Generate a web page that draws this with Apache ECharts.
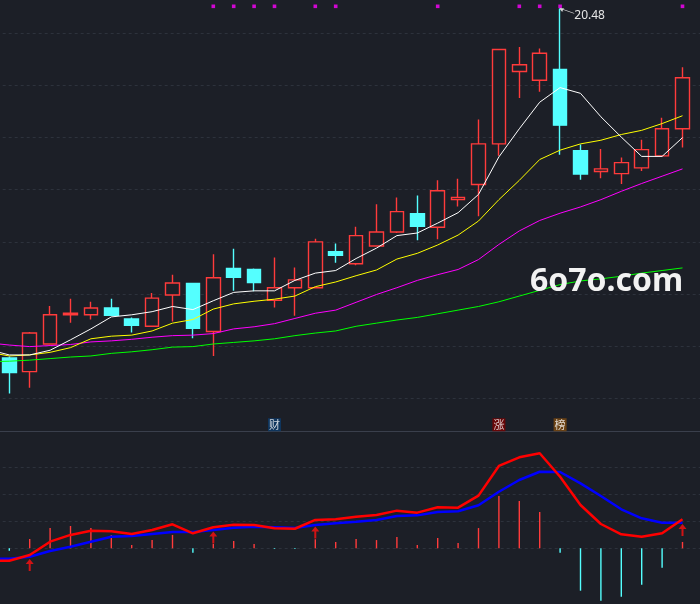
<!DOCTYPE html>
<html><head><meta charset="utf-8">
<script src="https://cdn.jsdelivr.net/npm/echarts@6/dist/echarts.min.js"></script>
<style>html,body{margin:0;padding:0;background:#1c1f27;}#c{width:700px;height:604px;}</style>
</head><body><div id="c"></div>
<script>
// ---- data ----
const days = ['d01','d02','d03','d04','d05','d06','d07','d08','d09','d10','d11','d12','d13','d14','d15','d16','d17',
  'd18','d19','d20','d21','d22','d23','d24','d25','d26','d27','d28','d29','d30','d31','d32','d33','d34'];
const openP  = [13.77,13.51,14.04,14.60,14.60,14.73,14.52,14.38,14.98,15.20,14.28,15.49,15.47,14.88,15.12,15.12,15.81,15.58,15.92,16.19,16.54,16.28,16.81,17.10,17.88,19.27,19.10,19.31,17.75,17.35,17.31,17.42,17.65,18.17];
const closeP = [13.49,14.25,14.60,14.63,14.73,14.59,14.40,14.92,15.21,14.34,15.31,15.32,15.22,15.12,15.27,16.00,15.74,16.12,16.19,16.58,16.30,16.98,16.85,17.88,19.69,19.40,19.62,18.24,17.30,17.40,17.52,17.77,18.17,19.15];
const highP  = [13.80,14.27,14.77,14.91,14.85,14.91,14.55,15.02,15.37,15.20,15.76,15.87,15.49,15.70,15.51,16.06,15.97,16.29,16.72,16.85,16.89,17.18,17.21,18.35,19.69,19.74,19.71,20.48,17.87,17.78,17.62,17.96,18.38,19.35];
const lowP   = [13.09,13.20,14.03,14.45,14.51,14.59,14.26,14.37,14.47,14.15,13.81,15.06,15.05,14.74,14.58,15.12,15.60,15.55,15.92,16.17,16.03,16.05,16.68,16.49,17.65,18.76,18.88,17.67,17.19,17.22,17.11,17.36,17.65,17.81];

// moving averages: value before the first visible day, then one per day
const ma5Prev = 13.93;
const ma5  = [13.83,13.83,13.92,14.12,14.33,14.56,14.60,14.66,14.76,14.70,14.87,15.03,15.06,15.06,15.26,15.40,15.45,15.68,15.88,16.12,16.17,16.36,16.56,16.91,17.63,18.17,18.68,18.96,18.85,18.40,18.01,17.64,17.64,18.00];
const ma10Prev = 13.88;
const ma10 = [13.81,13.83,13.88,13.97,14.14,14.19,14.21,14.29,14.44,14.51,14.71,14.81,14.86,14.90,14.96,15.14,15.23,15.35,15.46,15.67,15.78,15.94,16.13,16.40,16.81,17.18,17.58,17.76,17.88,17.95,18.06,18.14,18.27,18.42];
const ma20Prev = 14.06;
const ma20 = [14.02,13.99,14.01,14.03,14.08,14.10,14.13,14.17,14.20,14.21,14.24,14.33,14.37,14.43,14.53,14.63,14.69,14.84,14.99,15.12,15.26,15.37,15.47,15.66,15.95,16.21,16.41,16.55,16.67,16.81,16.97,17.12,17.26,17.40];
const ma60Prev = 13.70;
const ma60 = [13.71,13.73,13.76,13.79,13.81,13.86,13.89,13.93,13.98,13.99,14.04,14.07,14.10,14.14,14.20,14.25,14.29,14.38,14.44,14.50,14.55,14.62,14.69,14.76,14.85,14.96,15.07,15.18,15.25,15.29,15.34,15.40,15.45,15.50];

// MACD
const difPrev = -0.092;
const dif  = [-0.092,-0.050,0.049,0.099,0.130,0.126,0.106,0.136,0.178,0.111,0.156,0.175,0.173,0.148,0.145,0.210,0.215,0.234,0.247,0.279,0.264,0.304,0.301,0.390,0.610,0.674,0.704,0.530,0.321,0.180,0.104,0.086,0.111,0.215];
const deaPrev = -0.077;
const dea  = [-0.077,-0.062,-0.020,0.012,0.049,0.086,0.091,0.106,0.121,0.121,0.136,0.153,0.160,0.156,0.150,0.173,0.185,0.197,0.210,0.239,0.244,0.269,0.274,0.319,0.419,0.506,0.567,0.565,0.481,0.387,0.289,0.222,0.190,0.190];
const macdHist = [-0.018,0.069,0.150,0.165,0.150,0.099,0.024,0.061,0.099,-0.033,0.032,0.054,0.032,-0.005,-0.005,0.067,0.047,0.069,0.061,0.084,0.024,0.076,0.039,0.150,0.387,0.350,0.269,-0.033,-0.314,-0.388,-0.358,-0.270,-0.144,0.047];

// signals
const topSignalDays = [10,11,12,13,15,16,21,25,26,27,33];
const topSignalLevel = 20.52;
const eventDays = [13,24,27];
const eventTexts = ['财','涨','榜'];
const eventLevel = 12.49;
const crossDays = [1,10,15,33];
const crossLevels = [-0.124,0.080,0.117,0.136];

// ---- build ----
const BG = '#1c1f27';
const cats = ['pre'].concat(days, ['next']);
const pad = (prev, arr) => [prev].concat(arr, ['-']);
const candles = [['-','-','-','-']].concat(
  days.map((d, i) => [openP[i], closeP[i], lowP[i], highP[i]]), [['-','-','-','-']]);
const eventBg = {'财':'#0d3b6b','涨':'#7a0000','榜':'#7d4a10'};
const gridLine = {show:true, showMinLine:false, showMaxLine:false,
  lineStyle:{color:'#2d323c', type:[3,3], width:1}};

const chart = echarts.init(document.getElementById('c'), null, {renderer:'canvas'});
chart.setOption({
  backgroundColor: BG,
  animation: false,
  grid: [
    {left:-21.3, right:-13.1, top:-18.7, height:469, outerBoundsMode:'none', containLabel:false},
    {left:-21.3, right:-13.1, top:431.3, height:171, outerBoundsMode:'none', containLabel:false}
  ],
  xAxis: [
    {type:'category', data:cats, gridIndex:0, boundaryGap:true, show:false},
    {type:'category', data:cats, gridIndex:1, boundaryGap:true, position:'top',
     axisLine:{show:true, onZero:false, lineStyle:{color:'#3a3f4c', width:1}},
     axisTick:{show:false}, axisLabel:{show:false}, splitLine:{show:false}}
  ],
  yAxis: [
    {type:'value', gridIndex:0, min:12, max:21, interval:1,
     axisLine:{show:false}, axisTick:{show:false}, axisLabel:{show:false}, splitLine:gridLine},
    {type:'value', gridIndex:1, min:-0.4, max:0.8667, interval:0.2,
     axisLine:{show:false}, axisTick:{show:false}, axisLabel:{show:false},
     splitLine:{show:true, showMinLine:false, showMaxLine:false,
       lineStyle:{color:['transparent','#2d323c','#2d323c','#2d323c','#2d323c','transparent'], type:[3,3], width:1}}}
  ],
  graphic: [
    {type:'text', left:530, top:266, z:100,
     style:{text:'6o7o.com', font:'bold 32px "Noto Sans"', fill:'#f2f2f2'}}
  ],
  series: [
    {type:'candlestick', name:'K', xAxisIndex:0, yAxisIndex:0, data:candles, barWidth:14,
     itemStyle:{color:BG, color0:'#54ffff', borderColor:'#ff3b3b', borderColor0:'#54ffff', borderWidth:1.4},
     emphasis:{disabled:true},
     markPoint:{
       data:[{type:'max', valueDim:'highest'}],
       symbol:'path://M0,0 L14,5 M0,0 L4,0.3 M0,0 L2.5,3',
       symbolSize:[14,5], symbolOffset:[7,2.5], symbolKeepAspect:false,
       itemStyle:{color:'none', borderColor:'#d8d8d8', borderWidth:1},
       label:{show:true, position:'right', distance:0, offset:[-4,5], color:'#e6e6e6', fontSize:12,
         fontFamily:'"Noto Sans", sans-serif', formatter:(p)=>p.value.toFixed(2)}
     }},
    {type:'line', name:'MA60', data:pad(ma60Prev, ma60), symbol:'none', lineStyle:{color:'#00ff00', width:1}, emphasis:{disabled:true}},
    {type:'line', name:'MA20', data:pad(ma20Prev, ma20), symbol:'none', lineStyle:{color:'#ff00ff', width:1}, emphasis:{disabled:true}},
    {type:'line', name:'MA10', data:pad(ma10Prev, ma10), symbol:'none', lineStyle:{color:'#ffff00', width:1}, emphasis:{disabled:true}},
    {type:'line', name:'MA5',  data:pad(ma5Prev, ma5),  symbol:'none', lineStyle:{color:'#ffffff', width:1}, emphasis:{disabled:true}},
    {type:'scatter', name:'sig', data:topSignalDays.map(d => [d + 1, topSignalLevel]),
     symbol:'rect', symbolSize:3.6, itemStyle:{color:'#ff00ff'}, emphasis:{disabled:true}},
    {type:'scatter', name:'events', symbolSize:0,
     data:eventDays.map((d, i) => ({name:eventTexts[i], value:[d + 1, eventLevel],
       label:{backgroundColor:eventBg[eventTexts[i]]}})),
     label:{show:true, position:'inside', formatter:'{b}', color:'#ffffff', fontSize:11, lineHeight:11,
       padding:[1,1,1,1], fontFamily:'"Noto Sans CJK SC"'}, emphasis:{disabled:true}},
    {type:'bar', name:'MACD', xAxisIndex:1, yAxisIndex:1, data:['-'].concat(macdHist, ['-']), barWidth:1.4,
     itemStyle:{color:(p) => p.value >= 0 ? '#ff3b3b' : '#54ffff'}, emphasis:{disabled:true}},
    {type:'line', name:'DEA', xAxisIndex:1, yAxisIndex:1, data:pad(deaPrev, dea), symbol:'none',
     lineStyle:{color:'#0000ff', width:2.5}, emphasis:{disabled:true}},
    {type:'line', name:'DIF', xAxisIndex:1, yAxisIndex:1, data:pad(difPrev, dif), symbol:'none',
     lineStyle:{color:'#ff0000', width:2.5}, emphasis:{disabled:true}},
    {type:'scatter', name:'cross', xAxisIndex:1, yAxisIndex:1,
     data:crossDays.map((d, i) => [d + 1, crossLevels[i]]),
     symbol:'path://M4,0 L8,5 L5,5 L5,12 L3,12 L3,5 L0,5 Z', symbolSize:[8,12],
     itemStyle:{color:'#ff1010'}, emphasis:{disabled:true}}
  ]
});
</script></body></html>
